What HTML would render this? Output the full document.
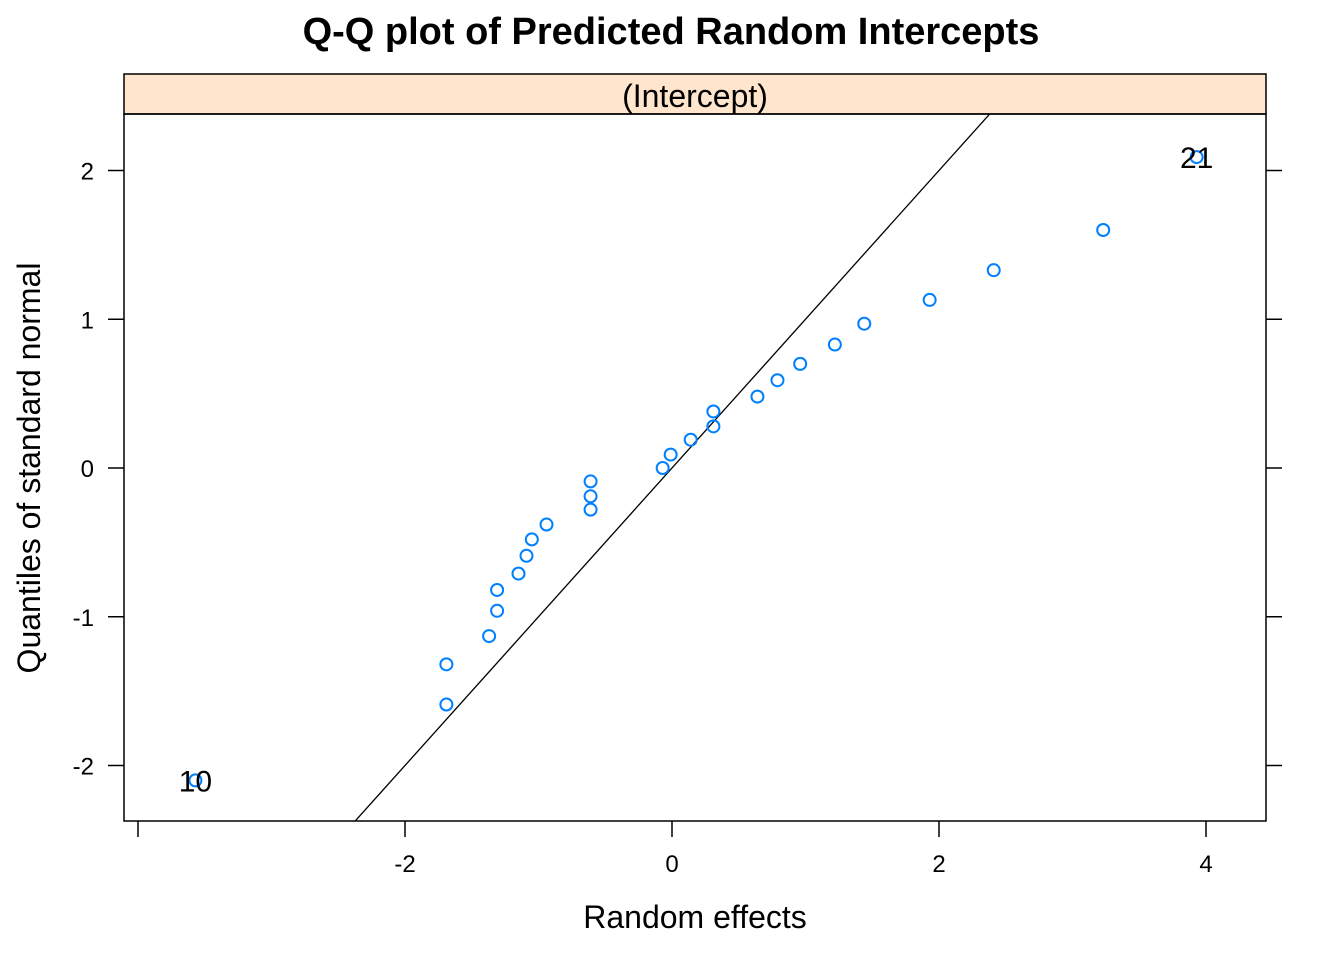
<!DOCTYPE html>
<html><head><meta charset="utf-8"><style>
html,body{margin:0;background:#fff;overflow:hidden;width:1344px;height:960px;}
svg{display:block;font-family:"Liberation Sans",Arial,sans-serif;}
</style></head><body>
<svg id="chart" width="1344" height="960" xmlns="http://www.w3.org/2000/svg">
<rect width="1344" height="960" fill="#fff"/>
<text x="671" y="44" text-anchor="middle" font-size="38" font-weight="bold">Q-Q plot of Predicted Random Intercepts</text>
<rect x="124" y="74" width="1142" height="40" fill="#ffe5cc" stroke="#000" stroke-width="1.5"/>
<text x="695" y="107" text-anchor="middle" font-size="32">(Intercept)</text>
<rect x="124" y="114" width="1142" height="707" fill="none" stroke="#000" stroke-width="1.5"/>
<text x="695" y="928" text-anchor="middle" font-size="32">Random effects</text>
<text transform="translate(40,468) rotate(-90)" text-anchor="middle" font-size="32">Quantiles of standard normal</text>
<g id="axes"></g>
<g id="marks"></g>
</svg>
<script>
const xTicks=[-4,-2,0,2,4];
const xTickLabels=["","-2","0","2","4"];
const yTicks=[-2,-1,0,1,2];
const yTickLabels=["-2","-1","0","1","2"];
const effects=[-3.57,-1.69,-1.69,-1.37,-1.31,-1.31,-1.15,-1.09,-1.05,-0.94,-0.61,-0.61,-0.61,-0.07,-0.01,0.14,0.31,0.31,0.64,0.79,0.96,1.22,1.44,1.93,2.41,3.23,3.93];
const quantiles=[-2.10,-1.59,-1.32,-1.13,-0.96,-0.82,-0.71,-0.59,-0.48,-0.38,-0.28,-0.19,-0.09,0,0.09,0.19,0.28,0.38,0.48,0.59,0.70,0.83,0.97,1.13,1.33,1.60,2.09];
const pointLabels={0:"10",26:"21"};
const refLine=[0,1]; // intercept, slope
const X=v=>672+v*133.5;
const Y=v=>468-v*148.75;
const NS="http://www.w3.org/2000/svg";
function mk(t,a,p){const e=document.createElementNS(NS,t);for(const k in a)e.setAttribute(k,a[k]);p.appendChild(e);return e;}
const ax=document.getElementById('axes'),mg=document.getElementById('marks');
xTicks.forEach((t,i)=>{
 const l=mk('line',{x1:X(t),x2:X(t),y1:821,y2:837,stroke:'#000','stroke-width':1.5},ax);
 
 
 const tx=mk('text',{x:X(t),y:872,'text-anchor':'middle','font-size':24},ax);tx.textContent=xTickLabels[i];
 
 
});
yTicks.forEach((t,i)=>{
 const l=mk('line',{x1:108,x2:124,y1:Y(t),y2:Y(t),stroke:'#000','stroke-width':1.5},ax);
 
 
 const r=mk('line',{x1:1266,x2:1282,y1:Y(t),y2:Y(t),stroke:'#000','stroke-width':1.5},ax);
 
 
 const tx=mk('text',{x:94,y:Y(t)+9,'text-anchor':'end','font-size':24},ax);tx.textContent=yTickLabels[i];
 
 
});
const cp=mk('clipPath',{id:'pc'},mg);mk('rect',{x:124,y:114,width:1142,height:707},cp);
const xa=-5,xb=6;
const ln=mk('line',{x1:X(xa),y1:Y(refLine[0]+refLine[1]*xa),x2:X(xb),y2:Y(refLine[0]+refLine[1]*xb),stroke:'#000','stroke-width':1.3,'clip-path':'url(#pc)'},mg);


effects.forEach((v,i)=>{
 const c=mk('circle',{cx:X(v),cy:Y(quantiles[i]),r:6,fill:'none',stroke:'#0080ff','stroke-width':2},mg);
 
 
 if(pointLabels[i]){
  const t=mk('text',{x:X(v),y:Y(quantiles[i])+11,'text-anchor':'middle','font-size':30},mg);t.textContent=pointLabels[i];
  
  
 }
});
</script>
</body></html>
